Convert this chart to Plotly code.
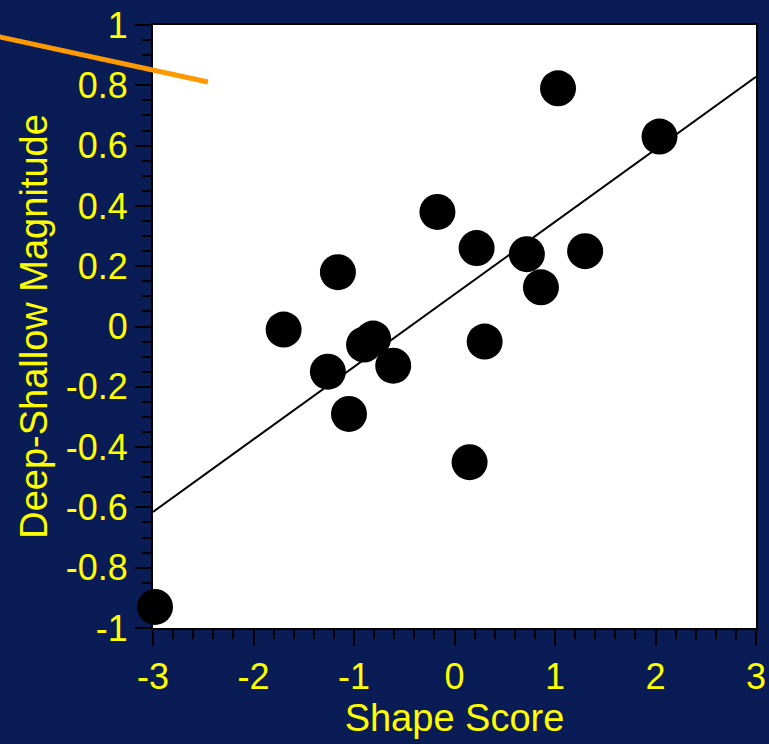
import plotly.graph_objects as go

# Data
shape_score = [1.03, 2.04, -0.17, 0.22, 0.72, 1.30, 0.86, -1.16, -1.70, -0.81,
               -0.90, 0.30, -0.61, -1.26, -1.05, 0.15, -2.98]
magnitude = [0.79, 0.63, 0.38, 0.26, 0.24, 0.25, 0.13, 0.18, -0.01, -0.04,
             -0.06, -0.05, -0.13, -0.15, -0.29, -0.45, -0.93]

fit_x = [-3, 3]
fit_y = [-0.615, 0.828]

x_tickvals = [-3, -2, -1, 0, 1, 2, 3]
x_ticktext = ["-3", "-2", "-1", "0", "1", "2", "3"]
y_tickvals = [1, 0.8, 0.6, 0.4, 0.2, 0, -0.2, -0.4, -0.6, -0.8, -1]
y_ticktext = ["1", "0.8", "0.6", "0.4", "0.2", "0", "-0.2", "-0.4", "-0.6", "-0.8", "-1"]

NAVY = "#0a1c55"
YELLOW = "#ffff00"
FONT = "Liberation Sans, Arial, sans-serif"

fig = go.Figure()
fig.add_trace(go.Scatter(x=fit_x, y=fit_y, mode="lines",
                         line=dict(color="black", width=2), showlegend=False,
                         hoverinfo="skip"))
fig.add_trace(go.Scatter(x=shape_score, y=magnitude, mode="markers",
                         marker=dict(color="black", size=36, line=dict(width=0)),
                         cliponaxis=False, showlegend=False))

axis_common = dict(
    showgrid=False, zeroline=False, showline=True, linecolor="black",
    linewidth=2, mirror=True, ticks="outside", ticklen=16, tickwidth=2,
    tickcolor="black", tickfont=dict(color=YELLOW, size=36, family=FONT),
    automargin=False,
)

fig.update_xaxes(range=[-3, 3], tickvals=x_tickvals, ticktext=x_ticktext,
                 minor=dict(dtick=0.2, ticks="outside", ticklen=9, tickwidth=2,
                            tickcolor="black", showgrid=False),
                 title=dict(text="Shape Score", font=dict(color=YELLOW, size=38, family=FONT),
                            standoff=4),
                 **axis_common)
fig.update_yaxes(range=[-1, 1], tickvals=y_tickvals, ticktext=y_ticktext,
                 minor=dict(dtick=0.05, ticks="outside", ticklen=9, tickwidth=2,
                            tickcolor="black", showgrid=False),
                 title=dict(text="Deep-Shallow Magnitude", font=dict(color=YELLOW, size=38, family=FONT),
                            standoff=6),
                 **axis_common)

fig.add_shape(type="line", xref="paper", yref="paper",
              x0=-0.262, y0=0.982, x1=0.0912, y1=0.9055,
              line=dict(color="#ff9900", width=5), layer="above")

fig.update_layout(
    width=769, height=744,
    margin=dict(l=153, r=13, t=25, b=116),
    paper_bgcolor=NAVY, plot_bgcolor="white",
    font=dict(family=FONT, color=YELLOW),
)

fig.write_html(
    "out.html",
    config={"displayModeBar": False},
    post_script="document.body.style.margin='0';document.body.style.padding='0';"
                "document.body.style.background='#0a1c55';"
                "document.documentElement.style.background='#0a1c55';",
)
